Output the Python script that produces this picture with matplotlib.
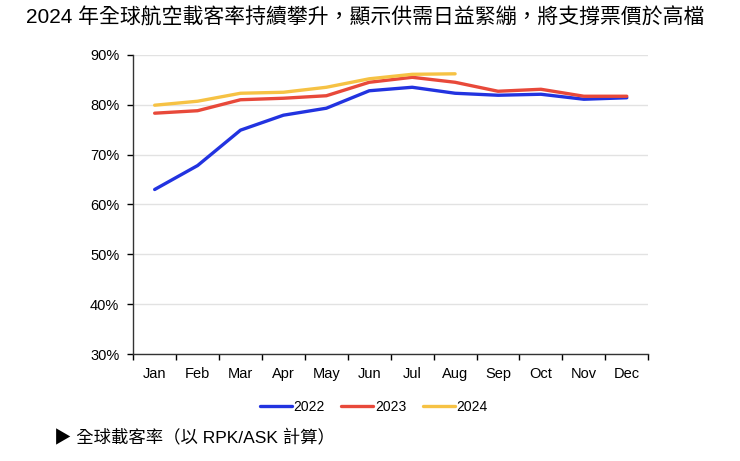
import numpy as np
import matplotlib.pyplot as plt
from matplotlib.ticker import FixedLocator

plt.rcParams['font.family'] = ['Liberation Sans', 'Noto Sans CJK TC', 'DejaVu Sans']

months = ['Jan', 'Feb', 'Mar', 'Apr', 'May', 'Jun', 'Jul', 'Aug', 'Sep', 'Oct', 'Nov', 'Dec']
load_2022 = [63.0, 67.8, 74.9, 77.9, 79.3, 82.8, 83.5, 82.3, 81.9, 82.1, 81.1, 81.4]
load_2023 = [78.3, 78.8, 81.0, 81.3, 81.8, 84.5, 85.5, 84.5, 82.7, 83.1, 81.7, 81.7]
load_2024 = [79.9, 80.7, 82.3, 82.5, 83.5, 85.2, 86.1, 86.2]
yticks = [30, 40, 50, 60, 70, 80, 90]

fig = plt.figure(figsize=(7.4, 4.61), dpi=100)
ax = fig.add_axes([0.180, 0.232, 0.696, 0.649])

x = np.arange(len(months))
ax.plot(x, load_2022, color='#2233e0', lw=2.4, label='2022', solid_capstyle='round')
ax.plot(x, load_2023, color='#e8493a', lw=2.4, label='2023', solid_capstyle='round')
ax.plot(np.arange(len(load_2024)), load_2024, color='#f6c244', lw=2.4, label='2024',
        solid_capstyle='round')

ax.set_xlim(-0.5, 11.5)
ax.set_ylim(30, 90)
ax.set_yticks(yticks)
ax.set_yticklabels([f'{v}%' for v in yticks])
ax.set_xticks(x)
ax.set_xticklabels(months)
ax.xaxis.set_minor_locator(FixedLocator(np.arange(-0.5, 12, 1)))
ax.tick_params(axis='x', which='major', length=0, pad=9, labelsize=10.5)
ax.tick_params(axis='x', which='minor', length=4, width=1, direction='out')
ax.tick_params(axis='y', length=4, width=1, pad=6, labelsize=10.5)

ax.grid(axis='y', color='#e2e2e2', lw=1)
ax.set_axisbelow(True)
for s in ['top', 'right']:
    ax.spines[s].set_visible(False)
for s in ['left', 'bottom']:
    ax.spines[s].set_color('#333333')
    ax.spines[s].set_linewidth(1)

fig.legend(loc='center', bbox_to_anchor=(0.505, 0.117), ncol=3, frameon=False,
           fontsize=10, handlelength=2.3, handletextpad=0.1, columnspacing=1.2)

fig.text(0.494, 0.962, '2024 年全球航空載客率持續攀升，顯示供需日益緊繃，將支撐票價於高檔',
         ha='center', va='center', fontsize=15)
fig.text(0.073, 0.050, '▶ 全球載客率（以 RPK/ASK 計算）', ha='left', va='center', fontsize=12.5)

fig.savefig('out.png', dpi=100)
